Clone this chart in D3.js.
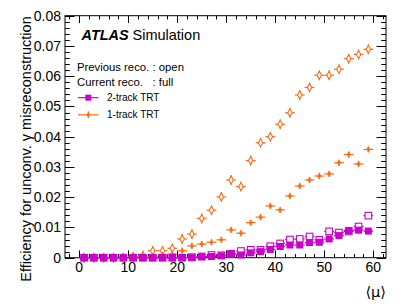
<!DOCTYPE html>
<html><head><meta charset="utf-8">
<script src="https://cdn.jsdelivr.net/npm/d3@7"></script>
<style>body{margin:0;background:#fff}svg{display:block}text{font-family:"Liberation Sans",Arial,sans-serif}</style>
</head><body><svg id="c" width="407" height="307"></svg>
<script>
const mu = [1,3,5,7,9,11,13,15,17,19,21,23,25,27,29,31,33,35,37,39,41,43,45,47,49,51,53,55,57,59];
const prev1track = [0,0,0,0,0,0.0003,0.0007,0.0023,0.0023,0.0031,0.0062,0.0078,0.013,0.0157,0.0201,0.0257,0.0235,0.0321,0.038,0.040,0.0441,0.0479,0.0538,0.0563,0.0603,0.0603,0.0623,0.0658,0.0672,0.0689];
const curr1track = [0,0,0,0,0,0.0001,0.0003,0.0005,0.0008,0.0012,0.0023,0.0039,0.0045,0.0051,0.0059,0.0092,0.0081,0.0116,0.0134,0.0171,0.0158,0.0204,0.0237,0.0257,0.027,0.0277,0.0314,0.0341,0.031,0.0358];
const prev2track = [0,0,0,0,0,0,0,0,0,0,0,0.0002,0.0004,0.0009,0.0008,0.0013,0.0022,0.0026,0.0026,0.0038,0.0047,0.006,0.0062,0.007,0.0059,0.0087,0.0083,0.0087,0.0103,0.0139];
const curr2track = [0,0,0,0,0,0,0,0,0,0,0,0,0.0003,0.0004,0.0006,0.0014,0.0009,0.0016,0.002,0.0027,0.0037,0.0042,0.0042,0.005,0.0051,0.0062,0.0073,0.009,0.0091,0.0088];
const yTicks = [0,0.01,0.02,0.03,0.04,0.05,0.06,0.07,0.08];
const yTickLabels = ["0","0.01","0.02","0.03","0.04","0.05","0.06","0.07","0.08"];
const xTicks = [0,10,20,30,40,50,60];
const xTickLabels = ["0","10","20","30","40","50","60"];

const ORANGE = "#ff6a13", MAGENTA = "#cc00cc";
const svg = d3.select("#c");
const L = 65, R = 386, T = 15.7, B = 257.7;
const x = d3.scaleLinear().domain([-2.9, 62.6]).range([L, R]);
const y = d3.scaleLinear().domain([0, 0.08]).range([B, T]);

// frame
svg.append("rect").attr("x", L).attr("y", T).attr("width", R - L).attr("height", B - T)
  .attr("fill", "none").attr("stroke", "#000").attr("stroke-width", 1);

// ticks
const g = svg.append("g").attr("stroke", "#000").attr("stroke-width", 1);
const yMinor = d3.range(0, 0.0801, 0.002);
yMinor.forEach((v, i) => {
  const major = i % 5 === 0;
  const len = major ? 9.5 : 4.8;
  const yy = Math.round(y(v)) + 0.5;
  g.append("line").attr("x1", L).attr("x2", L + len).attr("y1", yy).attr("y2", yy);
  g.append("line").attr("x1", R).attr("x2", R - len).attr("y1", yy).attr("y2", yy);
});
const xMinor = d3.range(-2, 63, 2);
xMinor.forEach(v => {
  const major = v % 10 === 0;
  const len = major ? 7.3 : 3.7;
  const xx = Math.round(x(v)) + 0.5;
  g.append("line").attr("x1", xx).attr("x2", xx).attr("y1", B).attr("y2", B - len);
  g.append("line").attr("x1", xx).attr("x2", xx).attr("y1", T).attr("y2", T + len);
});

// tick labels
svg.append("g").selectAll("text").data(yTicks).join("text")
  .attr("x", 61).attr("y", d => y(d)).attr("dy", "0.36em")
  .attr("text-anchor", "end").attr("font-size", 14).text((d, i) => yTickLabels[i]);
svg.append("g").selectAll("text").data(xTicks).join("text")
  .attr("x", d => x(d)).attr("y", 271.5)
  .attr("text-anchor", "middle").attr("font-size", 14).text((d, i) => xTickLabels[i]);

// axis titles
svg.append("text").attr("transform", "translate(30.5,149) rotate(-90)")
  .attr("text-anchor", "middle").attr("font-size", 14.5)
  .text("Efficiency for unconv. γ misreconstruction");
svg.append("text").attr("x", 386).attr("y", 297).attr("text-anchor", "end")
  .attr("font-size", 14.5).style("font-family", "'DejaVu Sans', sans-serif").text("⟨μ⟩");

// data drawing helpers
const hw = x(1) - x(0);
function errorBars(sel, data, color, vlen) {
  sel.selectAll(null).data(data).join("g").each(function(d) {
    const gg = d3.select(this);
    const cx = x(d.x), cy = y(d.y);
    gg.append("line").attr("x1", cx - hw).attr("x2", cx + hw).attr("y1", cy).attr("y2", cy)
      .attr("stroke", color).attr("stroke-width", 1.2);
    gg.append("line").attr("x1", cx).attr("x2", cx).attr("y1", cy - vlen).attr("y2", cy + vlen)
      .attr("stroke", color).attr("stroke-width", 1.2);
  });
}
const mk = arr => mu.map((m, i) => ({x: m, y: arr[i]}));

const d_prev1 = mk(prev1track), d_curr1 = mk(curr1track), d_prev2 = mk(prev2track), d_curr2 = mk(curr2track);

// orange open diamonds (previous reco, 1-track)
const gp1 = svg.append("g");
errorBars(gp1, d_prev1, ORANGE, 5);
gp1.selectAll("path").data(d_prev1).join("path")
  .attr("d", d => { const cx = x(d.x), cy = y(d.y); return `M${cx},${cy-3.8}L${cx+2.3},${cy}L${cx},${cy+3.8}L${cx-2.3},${cy}Z`; })
  .attr("fill", "#fff").attr("stroke", ORANGE).attr("stroke-width", 1.1);

// orange filled diamonds (current reco, 1-track)
const gc1 = svg.append("g");
errorBars(gc1, d_curr1, ORANGE, 3.2);
gc1.selectAll("path").data(d_curr1).join("path")
  .attr("d", d => { const cx = x(d.x), cy = y(d.y); return `M${cx},${cy-2.6}L${cx+1.8},${cy}L${cx},${cy+2.6}L${cx-1.8},${cy}Z`; })
  .attr("fill", ORANGE).attr("stroke", ORANGE).attr("stroke-width", 0.6);

// magenta open squares (previous reco, 2-track)
const gp2 = svg.append("g");
errorBars(gp2, d_prev2, MAGENTA, 2);
gp2.selectAll("rect").data(d_prev2).join("rect")
  .attr("x", d => x(d.x) - 3.3).attr("y", d => y(d.y) - 3.3).attr("width", 6.6).attr("height", 6.6)
  .attr("fill", "#fff").attr("stroke", MAGENTA).attr("stroke-width", 1.1);

// magenta filled squares (current reco, 2-track)
const gc2 = svg.append("g");
errorBars(gc2, d_curr2, MAGENTA, 2);
gc2.selectAll("rect").data(d_curr2).join("rect")
  .attr("x", d => x(d.x) - 3.5).attr("y", d => y(d.y) - 3.5).attr("width", 7).attr("height", 7)
  .attr("fill", MAGENTA);

// ATLAS label
svg.append("text").attr("x", 81.5).attr("y", 39.5).attr("font-size", 14.5)
  .attr("font-weight", "bold").attr("font-style", "italic").text("ATLAS");
svg.append("text").attr("x", 132.5).attr("y", 39.5).attr("font-size", 14.5).text("Simulation");

// info text
svg.append("text").attr("x", 77).attr("y", 71).attr("font-size", 11.3).text("Previous reco.");
svg.append("text").attr("x", 152.5).attr("y", 71).attr("font-size", 11.3).text(": open");
svg.append("text").attr("x", 77).attr("y", 86).attr("font-size", 11.3).text("Current reco.");
svg.append("text").attr("x", 152.5).attr("y", 86).attr("font-size", 11.3).text(": full");

// legend
const legend = [
  {label: "2-track TRT", color: MAGENTA, shape: "square", y: 97.7},
  {label: "1-track TRT", color: ORANGE, shape: "diamond", y: 114.8}
];
legend.forEach(l => {
  svg.append("line").attr("x1", 78).attr("x2", 98.5).attr("y1", l.y).attr("y2", l.y)
    .attr("stroke", l.color).attr("stroke-width", 1.2);
  if (l.shape === "square") {
    svg.append("rect").attr("x", 88.3 - 3).attr("y", l.y - 3).attr("width", 6).attr("height", 6).attr("fill", l.color);
  } else {
    svg.append("line").attr("x1", 88.3).attr("x2", 88.3).attr("y1", l.y - 3.5).attr("y2", l.y + 3.5)
      .attr("stroke", l.color).attr("stroke-width", 1.2);
    svg.append("path").attr("d", `M88.3,${l.y-2.6}L90.1,${l.y}L88.3,${l.y+2.6}L86.5,${l.y}Z`).attr("fill", l.color);
  }
  svg.append("text").attr("x", 107).attr("y", l.y + 3.6).attr("font-size", 10).text(l.label);
});
</script></body></html>
